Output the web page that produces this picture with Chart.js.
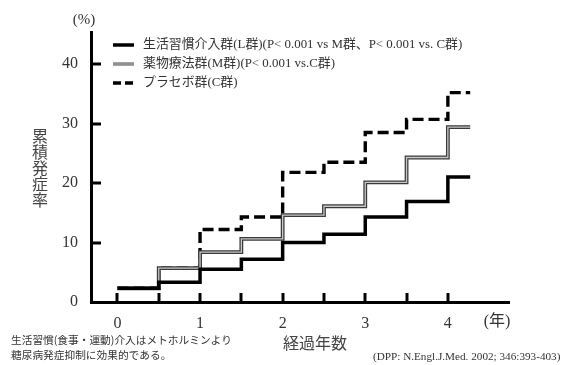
<!DOCTYPE html>
<html lang="ja">
<head>
<meta charset="utf-8">
<script src="https://cdn.jsdelivr.net/npm/chart.js@4.4.1/dist/chart.umd.min.js"></script>
<style>
  html, body { margin: 0; padding: 0; background: #fff; }
  #wrap { width: 569px; height: 365px; position: relative; }
</style>
</head>
<body>
<div id="wrap"><canvas id="c" width="569" height="365"></canvas></div>
<script>
// Years since enrolment at which each cumulative-incidence step begins (last point closes the final step)
const years = [0, 0.5, 1, 1.5, 2, 2.5, 3, 3.5, 4, 4.27];

// Cumulative incidence of diabetes (%)
const lifestyle = [2.3, 3.3, 5.5, 7.2, 10.0, 11.4, 14.3, 16.9, 21.0, 21.0];   // L群
const metformin = [2.3, 5.7, 8.4, 10.6, 14.6, 16.1, 20.1, 24.3, 29.4, 29.4];  // M群
const placebo   = [2.3, 5.7, 12.2, 14.3, 21.8, 23.5, 28.5, 30.7, 35.2, 35.2]; // C群

const seriesNames = [
  '生活習慣介入群(L群)(P< 0.001 vs M群、P< 0.001 vs. C群)',
  '薬物療法群(M群)(P< 0.001 vs.C群)',
  'プラセボ群(C群)'
];

const xTickValues = [0, 0.5, 1, 1.5, 2, 2.5, 3, 3.5, 4];
const yTickValues = [0, 10, 20, 30, 40];

const SERIF = '"Liberation Serif", "Noto Sans CJK JP", serif';
const CJK = '"Noto Sans CJK JP", sans-serif';
const TEXT = '#333';

const toPoints = vals => years.map((x, i) => ({ x, y: vals[i] }));

const lineBase = {
  stepped: 'before',
  pointRadius: 0,
  pointHoverRadius: 0,
  fill: false,
  borderCapStyle: 'butt',
  borderJoinStyle: 'miter'
};

// Inward tick marks on both axes
const innerTicks = {
  id: 'innerTicks',
  afterDraw(chart) {
    const { ctx, scales: { x, y }, chartArea } = chart;
    ctx.save();
    ctx.strokeStyle = '#000';
    ctx.lineWidth = 3;
    ctx.lineCap = 'butt';
    xTickValues.forEach(v => {
      const px = Math.round(x.getPixelForValue(v));
      ctx.beginPath();
      ctx.moveTo(px, chartArea.bottom);
      ctx.lineTo(px, chartArea.bottom - 9);
      ctx.stroke();
    });
    yTickValues.forEach(v => {
      if (v === 0) return;
      const py = Math.round(y.getPixelForValue(v));
      ctx.beginPath();
      ctx.moveTo(chartArea.left, py);
      ctx.lineTo(chartArea.left + 10, py);
      ctx.stroke();
    });
    ctx.restore();
  }
};

// Legend, axis titles, units and notes
const annotations = {
  id: 'annotations',
  afterDraw(chart) {
    const { ctx } = chart;
    ctx.save();
    ctx.fillStyle = TEXT;

    // unit labels
    ctx.font = '15px ' + SERIF;
    ctx.textAlign = 'center';
    ctx.textBaseline = 'middle';
    ctx.fillText('(%)', 84, 20);
    ctx.font = '16px ' + SERIF;
    ctx.fillText('(年)', 497, 322);

    // y-axis title, written vertically
    ctx.fillStyle = '#444';
    ctx.font = '16px ' + CJK;
    const yTitle = '累積発症率';
    [...yTitle].forEach((ch, i) => ctx.fillText(ch, 40, 136 + i * 16));

    // x-axis title
    ctx.fillText('経過年数', 315, 343);

    // notes
    ctx.fillStyle = TEXT;
    ctx.font = '10.7px ' + CJK;
    ctx.textAlign = 'left';
    ctx.fillText('生活習慣(食事・運動)介入はメトホルミンより', 11, 340);
    ctx.fillText('糖尿病発症抑制に効果的である。', 11, 355);
    ctx.font = '11.2px ' + SERIF;
    ctx.fillText('(DPP: N.Engl.J.Med. 2002; 346:393-403)', 373, 357);

    // legend
    const rows = [45, 64, 83];
    const x0 = 113, x1 = 134;
    ctx.lineCap = 'butt';
    // L
    ctx.strokeStyle = '#000';
    ctx.lineWidth = 3.5;
    ctx.beginPath(); ctx.moveTo(x0, rows[0]); ctx.lineTo(x1, rows[0]); ctx.stroke();
    // M (double line)
    ctx.lineWidth = 3;
    ctx.strokeStyle = '#444';
    ctx.beginPath(); ctx.moveTo(x0, rows[1]); ctx.lineTo(x1, rows[1]); ctx.stroke();
    ctx.lineWidth = 1.2;
    ctx.strokeStyle = '#c8c8c8';
    ctx.beginPath(); ctx.moveTo(x0, rows[1]); ctx.lineTo(x1, rows[1]); ctx.stroke();
    // C (dashed)
    ctx.strokeStyle = '#000';
    ctx.lineWidth = 3.5;
    ctx.setLineDash([8, 4]);
    ctx.beginPath(); ctx.moveTo(x0, rows[2]); ctx.lineTo(x1, rows[2]); ctx.stroke();
    ctx.setLineDash([]);

    ctx.font = '12.9px ' + SERIF;
    ctx.fillStyle = TEXT;
    ctx.textBaseline = 'middle';
    seriesNames.forEach((t, i) => ctx.fillText(t, 143, rows[i]));

    ctx.restore();
  }
};

new Chart(document.getElementById('c'), {
  type: 'line',
  data: {
    datasets: [
      { ...lineBase, label: seriesNames[0], data: toPoints(lifestyle), borderColor: '#000', borderWidth: 3.5 },
      { ...lineBase, label: seriesNames[1], data: toPoints(metformin), borderColor: '#c8c8c8', borderWidth: 1.3 },
      { ...lineBase, label: seriesNames[1], data: toPoints(metformin), borderColor: '#3a3a3a', borderWidth: 3.8 },
      { ...lineBase, label: seriesNames[2], data: toPoints(placebo), borderColor: '#000', borderWidth: 3.4, borderDash: [11, 5] }
    ]
  },
  options: {
    responsive: false,
    animation: false,
    events: [],
    layout: { padding: { top: 32, left: 0, right: 60, bottom: 0 } },
    plugins: { legend: { display: false }, tooltip: { enabled: false } },
    scales: {
      x: {
        type: 'linear',
        min: -0.32,
        max: 4.74,
        afterBuildTicks: s => { s.ticks = xTickValues.map(v => ({ value: v })); },
        afterFit: s => { s.height = 63; },
        grid: { display: true, drawOnChartArea: false, drawTicks: false },
        border: { display: true, color: '#000', width: 3 },
        ticks: {
          autoSkip: false,
          maxRotation: 0,
          padding: 12,
          color: TEXT,
          font: { family: SERIF, size: 16 },
          callback: v => (Number.isInteger(v) ? String(v) : '')
        }
      },
      y: {
        type: 'linear',
        min: 0,
        max: 45.4,
        afterBuildTicks: s => { s.ticks = yTickValues.map(v => ({ value: v })); },
        afterFit: s => { s.width = 91; },
        grid: { display: true, drawOnChartArea: false, drawTicks: false },
        border: { display: true, color: '#000', width: 3 },
        ticks: {
          padding: 13,
          color: TEXT,
          font: { family: SERIF, size: 16 }
        }
      }
    }
  },
  plugins: [innerTicks, annotations]
});
</script>
</body>
</html>
